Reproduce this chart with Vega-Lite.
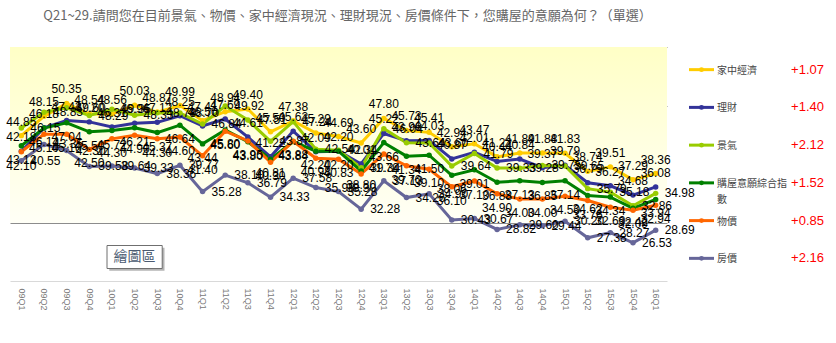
{
  "$schema": "https://vega.github.io/schema/vega-lite/v6.json",
  "padding": {"left": 6, "top": 10, "right": 0, "bottom": 0},
  "background": "white",
  "bounds": "flush",
  "spacing": 8,
  "title": {"text": "Q21~29.請問您在目前景氣、物價、家中經濟現況、理財現況、房價條件下，您購屋的意願為何？（單選）", "font": "Noto Sans CJK TC", "fontSize": 13, "fontWeight": "normal", "color": "#666666", "anchor": "start", "dx": 37, "offset": 24},
  "config": {"view": {"stroke": null}},
  "datasets": {
    "main": [
      {"q":"09Q1","s":"家中經濟","v":44.85},{"q":"09Q2","s":"家中經濟","v":48.15},{"q":"09Q3","s":"家中經濟","v":50.35},{"q":"09Q4","s":"家中經濟","v":48.54},{"q":"10Q1","s":"家中經濟","v":48.56},{"q":"10Q2","s":"家中經濟","v":50.03},{"q":"10Q3","s":"家中經濟","v":48.87},{"q":"10Q4","s":"家中經濟","v":49.99},{"q":"11Q1","s":"家中經濟","v":47.41},{"q":"11Q2","s":"家中經濟","v":48.94},{"q":"11Q3","s":"家中經濟","v":49.40},{"q":"11Q4","s":"家中經濟","v":45.50},{"q":"12Q1","s":"家中經濟","v":47.38},{"q":"12Q2","s":"家中經濟","v":45.29},{"q":"12Q3","s":"家中經濟","v":44.69},{"q":"12Q4","s":"家中經濟","v":43.60},{"q":"13Q1","s":"家中經濟","v":47.80},{"q":"13Q2","s":"家中經濟","v":45.73},{"q":"13Q3","s":"家中經濟","v":45.41},{"q":"13Q4","s":"家中經濟","v":42.94},{"q":"14Q1","s":"家中經濟","v":43.47},{"q":"14Q2","s":"家中經濟","v":41.22},{"q":"14Q3","s":"家中經濟","v":41.89},{"q":"14Q4","s":"家中經濟","v":41.88},{"q":"15Q1","s":"家中經濟","v":41.83},{"q":"15Q2","s":"家中經濟","v":38.74},{"q":"15Q3","s":"家中經濟","v":39.51},{"q":"15Q4","s":"家中經濟","v":37.29},{"q":"16Q1","s":"家中經濟","v":38.36},
      {"q":"09Q1","s":"理財","v":42.18},{"q":"09Q2","s":"理財","v":46.18},{"q":"09Q3","s":"理財","v":47.43},{"q":"09Q4","s":"理財","v":47.20},{"q":"10Q1","s":"理財","v":46.31},{"q":"10Q2","s":"理財","v":46.96},{"q":"10Q3","s":"理財","v":47.12},{"q":"10Q4","s":"理財","v":48.25},{"q":"11Q1","s":"理財","v":46.50},{"q":"11Q2","s":"理財","v":47.69},{"q":"11Q3","s":"理財","v":44.61},{"q":"11Q4","s":"理財","v":41.22},{"q":"12Q1","s":"理財","v":45.62},{"q":"12Q2","s":"理財","v":42.09},{"q":"12Q3","s":"理財","v":42.20},{"q":"12Q4","s":"理財","v":40.01},{"q":"13Q1","s":"理財","v":45.22},{"q":"13Q2","s":"理財","v":43.96},{"q":"13Q3","s":"理財","v":44.03},{"q":"13Q4","s":"理財","v":40.87},{"q":"14Q1","s":"理財","v":42.01},{"q":"14Q2","s":"理財","v":40.44},{"q":"14Q3","s":"理財","v":40.84},{"q":"14Q4","s":"理財","v":39.37},{"q":"15Q1","s":"理財","v":39.79},{"q":"15Q2","s":"理財","v":36.79},{"q":"15Q3","s":"理財","v":36.27},{"q":"15Q4","s":"理財","v":34.68},{"q":"16Q1","s":"理財","v":36.08},
      {"q":"09Q1","s":"景氣","v":46.15},{"q":"09Q2","s":"景氣","v":48.83},{"q":"09Q3","s":"景氣","v":49.60},{"q":"09Q4","s":"景氣","v":48.29},{"q":"10Q1","s":"景氣","v":49.35},{"q":"10Q2","s":"景氣","v":48.33},{"q":"10Q3","s":"景氣","v":48.78},{"q":"10Q4","s":"景氣","v":48.70},{"q":"11Q1","s":"景氣","v":46.84},{"q":"11Q2","s":"景氣","v":49.92},{"q":"11Q3","s":"景氣","v":47.51},{"q":"11Q4","s":"景氣","v":43.87},{"q":"12Q1","s":"景氣","v":47.24},{"q":"12Q2","s":"景氣","v":42.54},{"q":"12Q3","s":"景氣","v":42.34},{"q":"12Q4","s":"景氣","v":39.34},{"q":"13Q1","s":"景氣","v":46.04},{"q":"13Q2","s":"景氣","v":43.64},{"q":"13Q3","s":"景氣","v":43.60},{"q":"13Q4","s":"景氣","v":39.64},{"q":"14Q1","s":"景氣","v":41.79},{"q":"14Q2","s":"景氣","v":39.33},{"q":"14Q3","s":"景氣","v":39.28},{"q":"14Q4","s":"景氣","v":39.75},{"q":"15Q1","s":"景氣","v":39.65},{"q":"15Q2","s":"景氣","v":35.79},{"q":"15Q3","s":"景氣","v":35.18},{"q":"15Q4","s":"景氣","v":32.86},{"q":"16Q1","s":"景氣","v":34.98},
      {"q":"09Q1","s":"購屋意願綜合指數","v":43.12},{"q":"09Q2","s":"購屋意願綜合指數","v":46.14},{"q":"09Q3","s":"購屋意願綜合指數","v":47.04},{"q":"09Q4","s":"購屋意願綜合指數","v":45.50},{"q":"10Q1","s":"購屋意願綜合指數","v":45.72},{"q":"10Q2","s":"購屋意願綜合指數","v":46.21},{"q":"10Q3","s":"購屋意願綜合指數","v":45.37},{"q":"10Q4","s":"購屋意願綜合指數","v":46.64},{"q":"11Q1","s":"購屋意願綜合指數","v":43.44},{"q":"11Q2","s":"購屋意願綜合指數","v":45.80},{"q":"11Q3","s":"購屋意願綜合指數","v":43.80},{"q":"11Q4","s":"購屋意願綜合指數","v":40.81},{"q":"12Q1","s":"購屋意願綜合指數","v":43.84},{"q":"12Q2","s":"購屋意願綜合指數","v":42.20},{"q":"12Q3","s":"購屋意願綜合指數","v":42.20},{"q":"12Q4","s":"購屋意願綜合指數","v":38.80},{"q":"13Q1","s":"購屋意願綜合指數","v":43.66},{"q":"13Q2","s":"購屋意願綜合指數","v":41.34},{"q":"13Q3","s":"購屋意願綜合指數","v":41.50},{"q":"13Q4","s":"購屋意願綜合指數","v":38.06},{"q":"14Q1","s":"購屋意願綜合指數","v":39.01},{"q":"14Q2","s":"購屋意願綜合指數","v":36.88},{"q":"14Q3","s":"購屋意願綜合指數","v":37.13},{"q":"14Q4","s":"購屋意願綜合指數","v":36.85},{"q":"15Q1","s":"購屋意願綜合指數","v":37.14},{"q":"15Q2","s":"購屋意願綜合指數","v":34.62},{"q":"15Q3","s":"購屋意願綜合指數","v":34.34},{"q":"15Q4","s":"購屋意願綜合指數","v":32.42},{"q":"16Q1","s":"購屋意願綜合指數","v":33.94},
      {"q":"09Q1","s":"物價","v":42.10},{"q":"09Q2","s":"物價","v":45.10},{"q":"09Q3","s":"物價","v":45.10},{"q":"09Q4","s":"物價","v":42.50},{"q":"10Q1","s":"物價","v":44.30},{"q":"10Q2","s":"物價","v":44.90},{"q":"10Q3","s":"物價","v":44.30},{"q":"10Q4","s":"物價","v":44.60},{"q":"11Q1","s":"物價","v":41.40},{"q":"11Q2","s":"物價","v":45.60},{"q":"11Q3","s":"物價","v":43.95},{"q":"11Q4","s":"物價","v":40.30},{"q":"12Q1","s":"物價","v":43.88},{"q":"12Q2","s":"物價","v":40.98},{"q":"12Q3","s":"物價","v":40.83},{"q":"12Q4","s":"物價","v":38.30},{"q":"13Q1","s":"物價","v":41.70},{"q":"13Q2","s":"物價","v":39.70},{"q":"13Q3","s":"物價","v":39.10},{"q":"13Q4","s":"物價","v":36.10},{"q":"14Q1","s":"物價","v":37.10},{"q":"14Q2","s":"物價","v":34.90},{"q":"14Q3","s":"物價","v":34.00},{"q":"14Q4","s":"物價","v":34.00},{"q":"15Q1","s":"物價","v":34.50},{"q":"15Q2","s":"物價","v":33.76},{"q":"15Q3","s":"物價","v":32.60},{"q":"15Q4","s":"物價","v":32.09},{"q":"16Q1","s":"物價","v":32.94},
      {"q":"09Q1","s":"房價","v":40.55},{"q":"09Q2","s":"房價","v":43.35},{"q":"09Q3","s":"房價","v":42.30},{"q":"09Q4","s":"房價","v":39.58},{"q":"10Q1","s":"房價","v":39.64},{"q":"10Q2","s":"房價","v":39.33},{"q":"10Q3","s":"房價","v":38.36},{"q":"10Q4","s":"房價","v":39.77},{"q":"11Q1","s":"房價","v":35.28},{"q":"11Q2","s":"房價","v":38.10},{"q":"11Q3","s":"房價","v":36.79},{"q":"11Q4","s":"房價","v":34.33},{"q":"12Q1","s":"房價","v":37.58},{"q":"12Q2","s":"房價","v":35.98},{"q":"12Q3","s":"房價","v":35.28},{"q":"12Q4","s":"房價","v":32.28},{"q":"13Q1","s":"房價","v":37.13},{"q":"13Q2","s":"房價","v":34.26},{"q":"13Q3","s":"房價","v":34.90},{"q":"13Q4","s":"房價","v":30.43},{"q":"14Q1","s":"房價","v":30.67},{"q":"14Q2","s":"房價","v":28.82},{"q":"14Q3","s":"房價","v":29.60},{"q":"14Q4","s":"房價","v":29.44},{"q":"15Q1","s":"房價","v":30.20},{"q":"15Q2","s":"房價","v":27.38},{"q":"15Q3","s":"房價","v":28.27},{"q":"15Q4","s":"房價","v":26.53},{"q":"16Q1","s":"房價","v":28.69}
    ],
    "legend": [
      {"s":"家中經濟","label":"家中經濟","delta":"+1.07"},
      {"s":"理財","label":"理財","delta":"+1.40"},
      {"s":"景氣","label":"景氣","delta":"+2.12"},
      {"s":"購屋意願綜合指數","label":"購屋意願綜合指\n數","delta":"+1.52"},
      {"s":"物價","label":"物價","delta":"+0.85"},
      {"s":"房價","label":"房價","delta":"+2.16"}
    ],
    "note": [{"q":"10Q2","v":24.1,"label":"繪圖區"}]
  },
  "hconcat": [
    {
      "width": 657,
      "height": 234,
      "layer": [
        {
          "data": {"name": "main"},
          "mark": {"type": "rect", "color": {"gradient": "linear", "x1": 0, "y1": 0, "x2": 0, "y2": 1, "stops": [{"offset": 0, "color": "#FFFFC6"}, {"offset": 1, "color": "#FFFFF6"}]}},
          "encoding": {
            "y": {"datum": 60, "type": "quantitative", "scale": {"domain": [20, 60], "nice": false, "zero": false}, "axis": {"values": [30, 40, 50, 60], "grid": true, "gridColor": "#8c8c8c", "gridWidth": 1, "labels": false, "ticks": false, "domain": false, "title": null}},
            "y2": {"datum": 30}
          }
        },
        {
          "data": {"name": "main"},
          "mark": {"type": "line", "strokeWidth": 3},
          "encoding": {
            "x": {"field": "q", "type": "ordinal", "scale": {"type": "point", "padding": 0.5}, "axis": {"title": null, "labelAngle": 90, "labelFontSize": 9, "labelColor": "#777777", "labelFont": "Liberation Sans", "ticks": false, "domainColor": "#d9d9d9", "labelPadding": 7, "grid": false}},
            "y": {"field": "v", "type": "quantitative"},
            "color": {"field": "s", "type": "nominal", "scale": {"domain": ["家中經濟", "理財", "景氣", "購屋意願綜合指數", "物價", "房價"], "range": ["#FFCC00", "#333399", "#99CC00", "#008000", "#FF6600", "#666699"]}, "legend": null}
          }
        },
        {
          "data": {"name": "main"},
          "mark": {"type": "point", "filled": true, "size": 30, "opacity": 1},
          "encoding": {
            "x": {"field": "q", "type": "ordinal"},
            "y": {"field": "v", "type": "quantitative"},
            "color": {"field": "s", "type": "nominal", "legend": null}
          }
        },
        {
          "data": {"name": "main"},
          "transform": [{"filter": {"field": "s", "oneOf": ["家中經濟", "理財"]}}],
          "mark": {"type": "text", "dy": -14, "fontSize": 12, "font": "Liberation Sans", "color": "black"},
          "encoding": {
            "x": {"field": "q", "type": "ordinal"},
            "y": {"field": "v", "type": "quantitative"},
            "text": {"field": "v", "type": "quantitative", "format": ".2f"}
          }
        },
        {
          "data": {"name": "main"},
          "transform": [{"filter": {"field": "s", "oneOf": ["景氣", "房價"]}}],
          "mark": {"type": "text", "align": "left", "dx": 9, "fontSize": 12, "font": "Liberation Sans", "color": "black"},
          "encoding": {
            "x": {"field": "q", "type": "ordinal"},
            "y": {"field": "v", "type": "quantitative"},
            "text": {"field": "v", "type": "quantitative", "format": ".2f"}
          }
        },
        {
          "data": {"name": "main"},
          "transform": [{"filter": {"field": "s", "oneOf": ["購屋意願綜合指數", "物價"]}}],
          "mark": {"type": "text", "dy": 14, "fontSize": 12, "font": "Liberation Sans", "color": "black"},
          "encoding": {
            "x": {"field": "q", "type": "ordinal"},
            "y": {"field": "v", "type": "quantitative"},
            "text": {"field": "v", "type": "quantitative", "format": ".2f"}
          }
        },
        {
          "data": {"name": "note"},
          "mark": {"type": "point", "shape": "M-1.1,-0.4L1.3,-0.4L1.3,0.6L-1.1,0.6Z", "size": 2116, "filled": true, "color": "#b4b4b4", "opacity": 1, "strokeWidth": 0},
          "encoding": {"x": {"field": "q", "type": "ordinal"}, "y": {"field": "v", "type": "quantitative"}}
        },
        {
          "data": {"name": "note"},
          "mark": {"type": "point", "shape": "M-1.2,-0.5L1.2,-0.5L1.2,0.5L-1.2,0.5Z", "size": 2116, "filled": true, "color": "white", "stroke": "#6f6f6f", "strokeWidth": 1, "opacity": 1},
          "encoding": {"x": {"field": "q", "type": "ordinal"}, "y": {"field": "v", "type": "quantitative"}}
        },
        {
          "data": {"name": "note"},
          "mark": {"type": "text", "fontSize": 14, "font": "Noto Sans CJK TC", "color": "#4a5a70", "dx": 0},
          "encoding": {"x": {"field": "q", "type": "ordinal"}, "y": {"field": "v", "type": "quantitative"}, "text": {"field": "label"}}
        }
      ]
    },
    {
      "width": 160,
      "height": 234,
      "data": {"name": "legend"},
      "encoding": {
        "y": {"field": "s", "type": "nominal", "sort": ["家中經濟", "理財", "景氣", "購屋意願綜合指數", "物價", "房價"], "scale": {"type": "point", "padding": 0.6}, "axis": null}
      },
      "layer": [
        {
          "mark": {"type": "rule", "strokeWidth": 3},
          "encoding": {
            "x": {"datum": 14, "type": "quantitative", "scale": {"domain": [0, 160], "nice": false, "zero": false}, "axis": null},
            "x2": {"datum": 39},
            "color": {"field": "s", "type": "nominal", "scale": {"domain": ["家中經濟", "理財", "景氣", "購屋意願綜合指數", "物價", "房價"], "range": ["#FFCC00", "#333399", "#99CC00", "#008000", "#FF6600", "#666699"]}, "legend": null}
          }
        },
        {
          "mark": {"type": "point", "filled": true, "size": 24, "opacity": 1},
          "encoding": {"x": {"datum": 26.5, "type": "quantitative"}, "color": {"field": "s", "type": "nominal", "legend": null}}
        },
        {
          "mark": {"type": "text", "align": "left", "baseline": "alphabetic", "dy": 4, "fontSize": 10, "font": "Noto Sans CJK TC", "color": "#444444", "lineBreak": "\n", "lineHeight": 16},
          "encoding": {"x": {"datum": 42, "type": "quantitative"}, "text": {"field": "label"}}
        },
        {
          "mark": {"type": "text", "align": "right", "baseline": "middle", "fontSize": 13, "font": "Liberation Sans", "color": "#FF0000"},
          "encoding": {"x": {"datum": 149, "type": "quantitative"}, "text": {"field": "delta"}}
        }
      ]
    }
  ]
}
